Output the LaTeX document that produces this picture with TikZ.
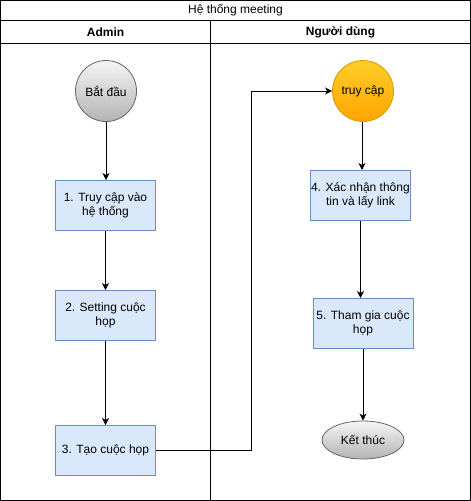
\documentclass[tikz,border=0pt]{standalone}
\usepackage{fontspec}
\setmainfont{Liberation Sans}
\usetikzlibrary{arrows.meta,shapes.geometric}
\definecolor{boxfill}{HTML}{DAE8FC}
\definecolor{boxline}{HTML}{6C8EBF}
\definecolor{greytop}{HTML}{F5F5F5}
\definecolor{greybot}{HTML}{B3B3B3}
\definecolor{greyline}{HTML}{666666}
\definecolor{orgtop}{HTML}{FFCD28}
\definecolor{orgbot}{HTML}{FFA500}
\definecolor{orgline}{HTML}{D79B00}
\tikzset{
  lane/.style={draw=black, line width=0.8pt},
  stepbox/.style={draw=boxline, fill=boxfill, line width=1pt, minimum width=100pt, minimum height=50pt, align=center, font=\fontsize{12}{14}\selectfont, inner sep=1pt},
  startc/.style={circle, draw=greyline, top color=greytop, bottom color=greybot, line width=0.8pt, minimum size=61pt, inner sep=0pt, font=\fontsize{12}{14}\selectfont},
  userc/.style={circle, draw=orgline, top color=orgtop, bottom color=orgbot, line width=0.8pt, minimum size=61pt, inner sep=0pt, font=\fontsize{12}{14}\selectfont},
  endc/.style={ellipse, draw=greyline, top color=greytop, bottom color=greybot, line width=0.8pt, minimum width=82pt, minimum height=38pt, inner sep=0pt, font=\fontsize{12}{14}\selectfont},
  arr/.style={draw=black, line width=1pt, -{Stealth[length=7pt,width=7pt,inset=2pt]}},
  hdr/.style={font=\bfseries\fontsize{12}{14}\selectfont},
  ttl/.style={font=\fontsize{12}{14}\selectfont}
}
\begin{document}
\begin{tikzpicture}[x=1pt,y=-1pt]
\useasboundingbox (0,0) rectangle (471,501);
% swimlane frame
\draw[lane] (0.5,0.5) rectangle (470.5,500.5);
\draw[lane] (0.5,20.5) -- (470.5,20.5);
\draw[lane] (0.5,43.5) -- (470.5,43.5);
\draw[lane] (210.5,20.5) -- (210.5,500.5);
\node[ttl] (title) at (235.5,10.5) {Hệ thống meeting};
\node[hdr] (hadmin) at (105.5,32) {Admin};
\node[hdr] (huser) at (340.5,32) {Người dùng};
% nodes
\node[startc] (start) at (106,91) {Bắt đầu};
\node[stepbox] (b1) at (105.5,205.5) {1. Truy cập vào\\hệ thống};
\node[stepbox] (b2) at (105.5,315.5) {2. Setting cuộc\\họp};
\node[stepbox] (b3) at (105.5,450.5) {3. Tạo cuộc họp};
\node[userc] (truy) at (363,91) {truy cập};
\node[stepbox] (b4) at (360.5,195.5) {4. Xác nhận thông\\tin và lấy link};
\node[stepbox] (b5) at (363,323.5) {5. Tham gia cuộc\\họp};
\node[endc] (end) at (363,440) {Kết thúc};
\coordinate (bend) at (251,91);
% connectors
\draw[arr] (start.south) -- (start.south |- b1.north);
\draw[arr] (b1.south) -- (b1.south |- b2.north);
\draw[arr] (b2.south) -- (b2.south |- b3.north);
\draw[arr] (b3.east) -| (bend) -- (truy.west);
\draw[arr] ([xshift=-1pt]truy.south) -- ([xshift=-1pt]truy.south |- b4.north);
\draw[arr] (b4.south) -- (b4.south |- b5.north);
\draw[arr] (b5.south) -- (b5.south |- end.north);
\end{tikzpicture}
\end{document}
